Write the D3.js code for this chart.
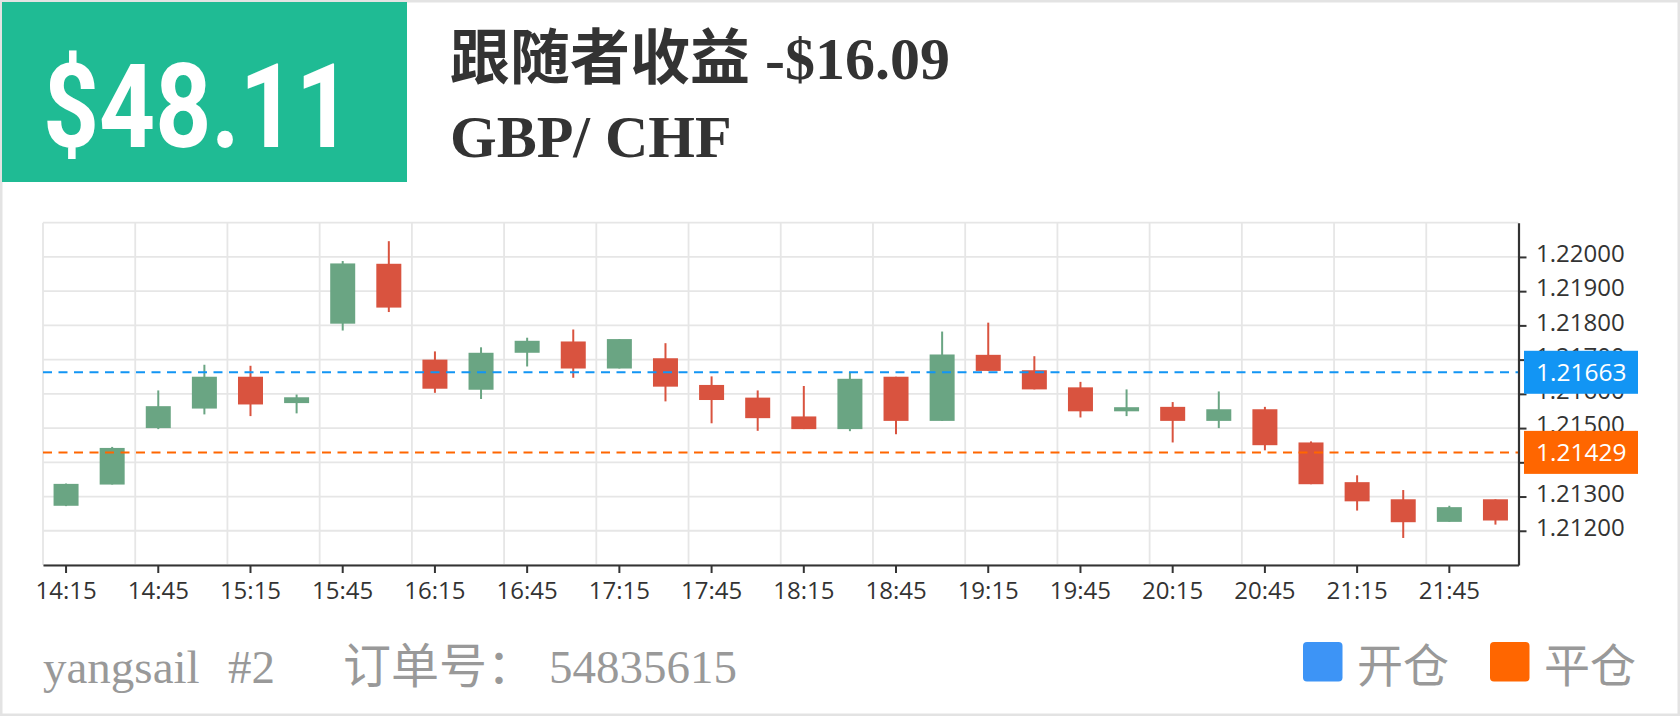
<!DOCTYPE html>
<html><head><meta charset="utf-8">
<script src="https://cdn.jsdelivr.net/npm/d3@7/dist/d3.min.js"></script>
<style>html,body{margin:0;padding:0;background:#fff;overflow:hidden}</style>
</head><body>
<svg id="c" width="1680" height="716"></svg>
<script>
// ---- data ----
const categories = ["14:15","14:30","14:45","15:00","15:15","15:30","15:45","16:00",
  "16:15","16:30","16:45","17:00","17:15","17:30","17:45","18:00",
  "18:15","18:30","18:45","19:00","19:15","19:30","19:45","20:00",
  "20:15","20:30","20:45","21:00","21:15","21:30","21:45","22:00"];
const openVals  = [1.21273,1.21335,1.21500,1.21557,1.21650,1.21573,1.21805,1.21980,
  1.21700,1.21612,1.21720,1.21753,1.21674,1.21704,1.21626,1.21589,
  1.21534,1.21497,1.21650,1.21521,1.21714,1.21669,1.21619,1.21549,
  1.21562,1.21521,1.21555,1.21458,1.21342,1.21292,1.21226,1.21292];
const closeVals = [1.21337,1.21442,1.21564,1.21650,1.21569,1.21590,1.21981,1.21852,
  1.21615,1.21720,1.21755,1.21674,1.21760,1.21621,1.21582,1.21529,
  1.21497,1.21644,1.21521,1.21715,1.21667,1.21613,1.21549,1.21561,
  1.21521,1.21555,1.21450,1.21336,1.21286,1.21225,1.21269,1.21230];
const lowVals   = [1.21272,1.21335,1.21497,1.21540,1.21535,1.21543,1.21785,1.21839,
  1.21603,1.21585,1.21680,1.21647,1.21674,1.21578,1.21514,1.21492,
  1.21497,1.21491,1.21482,1.21521,1.21667,1.21613,1.21531,1.21535,
  1.21458,1.21500,1.21435,1.21336,1.21259,1.21179,1.21226,1.21218];
const highVals  = [1.21338,1.21445,1.21610,1.21685,1.21682,1.21598,1.21988,1.22046,
  1.21724,1.21736,1.21764,1.21788,1.21760,1.21748,1.21651,1.21610,
  1.21623,1.21664,1.21650,1.21782,1.21808,1.21710,1.21635,1.21613,
  1.21576,1.21607,1.21562,1.21461,1.21362,1.21319,1.21273,1.21292];
const yTickValues = [1.212,1.213,1.214,1.215,1.216,1.217,1.218,1.219,1.220];
const yGridValues = [1.211,1.212,1.213,1.214,1.215,1.216,1.217,1.218,1.219,1.220,1.221];
const xTickLabels = categories.filter((d,i)=>i%2===0);
const openPrice = 1.21663;
const closePrice = 1.21429;
const profitText = "$48.11";
const titleText = "跟随者收益 -$16.09";
const pairText = "GBP/ CHF";
const userText = "yangsail";
const acctText = "#2";
const orderLabel = "订单号：";
const orderNo = "54835615";
const legendLabels = ["开仓","平仓"];

// ---- styles ----
const UP = "#6aa583", DOWN = "#d9533f";
const BLUE = "#1295f4", ORANGE = "#ff6600";
const GRID = "#e6e6e6", AXIS = "#333";
const axisFont = "'Open Sans','Noto Sans',sans-serif";

const svg = d3.select("#c");
svg.append("rect").attr("width",1680).attr("height",716).attr("fill","#fff");
svg.append("rect").attr("x",1.25).attr("y",1.25).attr("width",1677.5).attr("height",713.5)
  .attr("fill","none").attr("stroke","#e3e3e3").attr("stroke-width",2.5);

// header
svg.append("rect").attr("x",2).attr("y",2).attr("width",405).attr("height",180).attr("fill","#1fbb94");
svg.append("text").attr("x",43).attr("y",147).text(profitText)
  .attr("fill","#fff").attr("font-family","Roboto,'DejaVu Sans',sans-serif").attr("font-weight",700)
  .attr("font-size",117).attr("textLength",309).attr("lengthAdjust","spacingAndGlyphs");
svg.append("text").attr("x",450).attr("y",79).text(titleText)
  .attr("fill","#333").attr("font-family","'Liberation Serif','Noto Sans CJK SC',serif")
  .attr("font-weight",700).attr("font-size",60);
svg.append("text").attr("x",450).attr("y",157).text(pairText)
  .attr("fill","#333").attr("font-family","'Liberation Serif',serif")
  .attr("font-weight",700).attr("font-size",60);

// scales
const x = d3.scaleBand().domain(categories).range([43,1518.5]).paddingInner(0).paddingOuter(0);
const y = d3.scaleLinear().domain([1.211,1.221]).range([565,222.7]);
const bw = x.bandwidth();
const bodyW = 25;

// grid
const g = svg.append("g");
g.selectAll("line.h").data(yGridValues).join("line").attr("class","h")
  .attr("x1",x.range()[0]).attr("x2",x.range()[1])
  .attr("y1",d=>y(d)).attr("y2",d=>y(d)).attr("stroke",GRID).attr("stroke-width",1.8);
g.selectAll("line.v").data(xTickLabels).join("line").attr("class","v")
  .attr("x1",d=>x(d)).attr("x2",d=>x(d))
  .attr("y1",y.range()[1]).attr("y2",y.range()[0]).attr("stroke",GRID).attr("stroke-width",1.8);

// candles
const data = categories.map((c,i)=>({c,o:openVals[i],cl:closeVals[i],l:lowVals[i],h:highVals[i]}));
const cg = svg.append("g");
const cs = cg.selectAll("g").data(data).join("g");
cs.append("line")
  .attr("x1",d=>x(d.c)+bw/2).attr("x2",d=>x(d.c)+bw/2)
  .attr("y1",d=>y(d.h)).attr("y2",d=>y(d.l))
  .attr("stroke",d=>d.cl>=d.o?UP:DOWN).attr("stroke-width",2);
cs.append("rect")
  .attr("x",d=>x(d.c)+bw/2-bodyW/2).attr("width",bodyW)
  .attr("y",d=>y(Math.max(d.o,d.cl)))
  .attr("height",d=>Math.max(1.5,y(Math.min(d.o,d.cl))-y(Math.max(d.o,d.cl))))
  .attr("fill",d=>d.cl>=d.o?UP:DOWN);

// mark lines
[[openPrice,BLUE],[closePrice,ORANGE]].forEach(([v,col])=>{
  svg.append("line").attr("x1",x.range()[0]).attr("x2",x.range()[1])
    .attr("y1",y(v)).attr("y2",y(v)).attr("stroke",col).attr("stroke-width",2)
    .attr("stroke-dasharray","9,6.5");
});

// axes
const ax = svg.append("g").attr("transform","translate(1518.5,0)")
  .call(d3.axisRight(y).tickValues(yTickValues).tickFormat(d3.format(".5f"))
    .tickSize(8).tickPadding(9.5).tickSizeOuter(0));
const bx = svg.append("g").attr("transform","translate(0,565)")
  .call(d3.axisBottom(x).tickValues(xTickLabels).tickSize(8).tickPadding(9).tickSizeOuter(0));
[ax,bx].forEach(a=>{
  a.select(".domain").attr("stroke",AXIS).attr("stroke-width",2.2);
  a.selectAll(".tick line").attr("stroke",AXIS).attr("stroke-width",2);
  a.selectAll(".tick text").attr("fill","#333").attr("font-family",axisFont).attr("font-size",24);
});
ax.selectAll(".tick text").attr("dy","0.2em");

// mark labels
[[openPrice,BLUE],[closePrice,ORANGE]].forEach(([v,col])=>{
  svg.append("rect").attr("x",1524).attr("y",y(v)-21.5).attr("width",114).attr("height",43).attr("fill",col);
  svg.append("text").attr("x",1536).attr("y",y(v)).attr("dy","0.35em").text(d3.format(".5f")(v))
    .attr("fill","#fff").attr("font-family",axisFont).attr("font-size",24.5);
});

// footer
const ff = "'Liberation Serif','Noto Sans CJK SC',serif";
svg.append("text").attr("x",43).attr("y",683).text(userText).attr("fill","#999").attr("font-family",ff).attr("font-size",47);
svg.append("text").attr("x",228).attr("y",683).text(acctText).attr("fill","#999").attr("font-family",ff).attr("font-size",47);
svg.append("text").attr("x",343).attr("y",683).text(orderLabel).attr("fill","#999").attr("font-family",ff).attr("font-size",48);
svg.append("text").attr("x",549).attr("y",683).text(orderNo).attr("fill","#999").attr("font-family",ff).attr("font-size",47);

// legend
const legCols = ["#3d94f6", ORANGE];
const legX = [1303, 1490];
legendLabels.forEach((t,i)=>{
  svg.append("rect").attr("x",legX[i]).attr("y",642).attr("width",39.5).attr("height",39.5).attr("rx",4).attr("fill",legCols[i]);
  svg.append("text").attr("x",legX[i]+54).attr("y",682).text(t).attr("fill","#999")
    .attr("font-family","'Noto Sans CJK SC',sans-serif").attr("font-size",46);
});
</script>
</body></html>
